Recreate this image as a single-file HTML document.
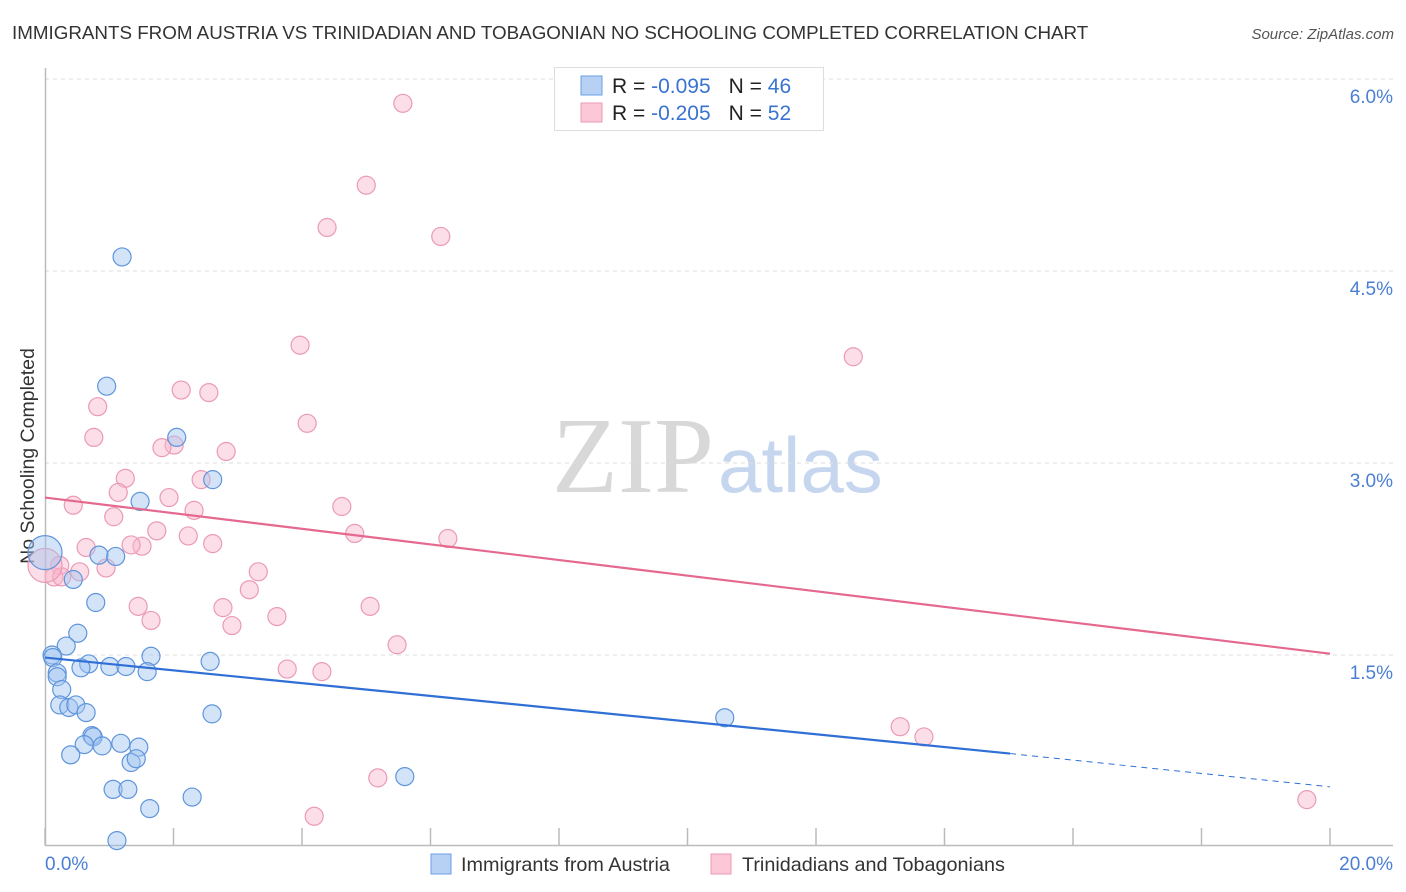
<!DOCTYPE html>
<html><head><meta charset="utf-8"><style>
body{margin:0;background:#fff;font-family:"Liberation Sans",sans-serif}
svg{display:block}
</style></head><body>
<svg id="c" width="1406" height="892">
<text x="12" y="39" font-size="18.8" fill="#333">IMMIGRANTS FROM AUSTRIA VS TRINIDADIAN AND TOBAGONIAN NO SCHOOLING COMPLETED CORRELATION CHART</text>
<text x="1394" y="39" font-size="15" fill="#555" font-style="italic" text-anchor="end">Source: ZipAtlas.com</text>
<text x="714" y="492" font-size="108" fill="#d8d8d8" text-anchor="end" font-family="Liberation Serif">ZIP</text>
<text x="718" y="492" font-size="78" fill="#c5d6ee">atlas</text>
<text transform="translate(34,456) rotate(-90)" font-size="19.5" fill="#333" text-anchor="middle">No Schooling Completed</text>
<g id="grid"></g><g id="ticks"></g><g id="pts"></g><g id="lines"></g>
<g>
<rect x="554.5" y="67.5" width="269" height="63" fill="#fff" stroke="#ddd"/>
<rect x="581" y="76" width="21" height="19" fill="#b7d1f4" stroke="#6a9fe0"/>
<rect x="581" y="103" width="21" height="19" fill="#fcc8d8" stroke="#eb9ab5"/>
<text x="612" y="93" font-size="21" fill="#222">R = <tspan fill="#3a73d0">-0.095</tspan><tspan dx="18">N = </tspan><tspan fill="#3a73d0">46</tspan></text>
<text x="612" y="120" font-size="21" fill="#222">R = <tspan fill="#3a73d0">-0.205</tspan><tspan dx="18">N = </tspan><tspan fill="#3a73d0">52</tspan></text>
</g>
<g>
<rect x="431" y="854" width="20" height="20" fill="#b7d1f4" stroke="#6a9fe0"/>
<text x="461" y="871" font-size="19.8" fill="#333">Immigrants from Austria</text>
<rect x="711" y="854" width="20" height="20" fill="#fcc8d8" stroke="#eb9ab5"/>
<text x="742" y="871" font-size="19.8" fill="#333">Trinidadians and Tobagonians</text>
</g>
</svg>
<script>
const xTicks=[0,2,4,6,8,10,12,14,16,18,20];
const yTicks=[1.5,3.0,4.5,6.0];
const yTickLabels=["1.5%","3.0%","4.5%","6.0%"];
const xTickLabels=["0.0%","20.0%"];
const austriaX=[1.20,0.96,2.05,2.61,1.48,0.84,1.10,0.44,0.79,0.51,0.33,0.11,0.12,1.65,2.57,0.68,0.56,1.01,1.26,1.59,0.19,0.19,0.26,0.23,0.37,0.48,0.64,2.60,10.58,0.73,0.75,0.61,0.89,1.18,1.46,0.40,1.34,1.42,5.60,1.06,1.29,2.29,1.63,1.12,0];
const austriaY=[4.61,3.60,3.20,2.87,2.70,2.28,2.27,2.09,1.91,1.67,1.57,1.50,1.48,1.49,1.45,1.43,1.40,1.41,1.41,1.37,1.36,1.33,1.23,1.11,1.09,1.11,1.05,1.04,1.01,0.87,0.86,0.80,0.79,0.81,0.78,0.72,0.66,0.69,0.55,0.45,0.45,0.39,0.30,0.05,2.30];
const trinX=[5.57,5.00,4.39,6.16,3.97,12.58,2.12,2.55,0.82,0.76,4.08,2.01,1.82,2.82,1.25,2.43,1.14,1.93,0.44,4.62,2.32,1.07,1.74,4.82,2.23,6.27,0.64,1.51,1.34,2.61,0.23,0.95,0.54,3.32,0.14,0.26,3.18,1.45,2.77,3.61,1.65,2.91,5.06,5.48,3.77,4.31,13.31,13.68,5.18,4.19,19.64,0];
const trinY=[5.81,5.17,4.84,4.77,3.92,3.83,3.57,3.55,3.44,3.20,3.31,3.14,3.12,3.09,2.88,2.87,2.77,2.73,2.67,2.66,2.63,2.58,2.47,2.45,2.43,2.41,2.34,2.35,2.36,2.37,2.20,2.18,2.15,2.15,2.11,2.11,2.01,1.88,1.87,1.80,1.77,1.73,1.88,1.58,1.39,1.37,0.94,0.86,0.54,0.24,0.37,2.20];
const austriaTrend=[[0,1.48],[15.02,0.73],[20,0.47]];
const trinTrend=[[0,2.73],[20,1.51]];
const X=v=>45+v/20*1285, Y=v=>847-v*128;
const NS="http://www.w3.org/2000/svg";
function mk(t,a,p){const e=document.createElementNS(NS,t);for(const k in a)e.setAttribute(k,a[k]);p.appendChild(e);return e;}
const grid=document.getElementById('grid'),ticks=document.getElementById('ticks'),pts=document.getElementById('pts'),lines=document.getElementById('lines');
yTicks.forEach((v,i)=>{
 const l=mk('line',{x1:45,x2:1393,y1:Y(v),y2:Y(v),stroke:'#ddd','stroke-dasharray':'4,4'},grid);
 
 
 const t=mk('text',{x:1393,y:Y(v)+24,'font-size':19,fill:'#4a7fd4','text-anchor':'end'},ticks);
 t.textContent=yTickLabels[i];
 
 
});
const ax=mk('path',{d:'M45.5 68V845.5H1393',fill:'none',stroke:'#bbb','stroke-width':1.5},ticks);


xTicks.forEach(v=>{
 const l=mk('line',{x1:X(v),x2:X(v),y1:828,y2:845,stroke:'#bbb','stroke-width':1.5},ticks);
 
 
});
[[0,'start',45],[1,'end',1393]].forEach(([i,a,x])=>{
 const t=mk('text',{x:x,y:870,'font-size':19,fill:'#4a7fd4','text-anchor':a},ticks);
 t.textContent=xTickLabels[i];
 
 
});
function dots(xs,ys,fill,stroke,name){
 xs.forEach((v,i)=>{
  const big=(v===0);
  const c=mk('circle',{cx:X(v),cy:Y(ys[i]),r:big?17:9,fill:fill,stroke:stroke,'stroke-width':1.2},pts);
  
  
 });
}
dots(trinX,trinY,'rgba(248,182,204,0.45)','#eb9ab5','point-trinidad');
dots(austriaX,austriaY,'rgba(160,195,240,0.45)','#5f95dc','point-austria');
const a1=mk('line',{x1:X(austriaTrend[0][0]),y1:Y(austriaTrend[0][1]),x2:X(austriaTrend[1][0]),y2:Y(austriaTrend[1][1]),stroke:'#2f6fd6','stroke-width':2.2},lines);


const a2=mk('line',{x1:X(austriaTrend[1][0]),y1:Y(austriaTrend[1][1]),x2:X(austriaTrend[2][0]),y2:Y(austriaTrend[2][1]),stroke:'#2f6fd6','stroke-width':1,'stroke-dasharray':'6,5'},lines);


const p1=mk('line',{x1:X(trinTrend[0][0]),y1:Y(trinTrend[0][1]),x2:X(trinTrend[1][0]),y2:Y(trinTrend[1][1]),stroke:'#e5688f','stroke-width':2.2},lines);


</script>
</body></html>
